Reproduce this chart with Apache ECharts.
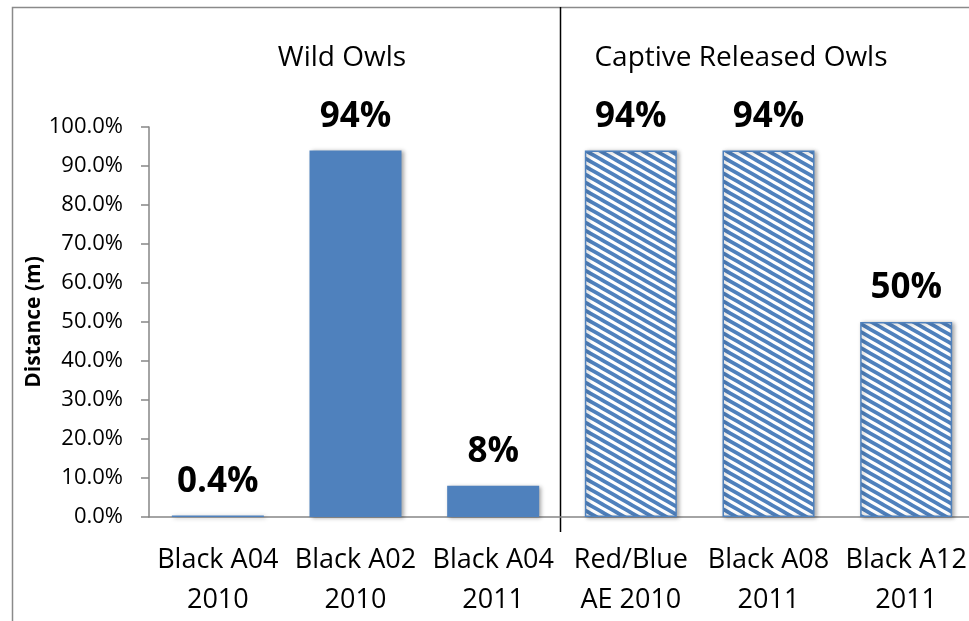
<!DOCTYPE html>
<html>
<head>
<meta charset="utf-8">
<title>Owl distance share</title>
<script src="https://cdn.jsdelivr.net/npm/echarts@6/dist/echarts.min.js"></script>
<style>
  html, body { margin: 0; padding: 0; background: #fff; overflow: hidden; }
  #chart { width: 969px; height: 621px; }
</style>
</head>
<body>
<div id="chart"></div>
<script>
// Owl records on the category axis (two-line labels)
const categories = ['Black A04\n2010', 'Black A02\n2010', 'Black A04\n2011',
                    'Red/Blue\nAE 2010', 'Black A08\n2011', 'Black A12\n2011'];
// Share of distance per owl (fraction of 1)
const distanceShare = [0.004, 0.94, 0.08, 0.94, 0.94, 0.50];
// 0 = wild owl, 1 = captive released owl
const groupOf = [0, 0, 0, 1, 1, 1];
const groupNames = ['Wild Owls', 'Captive Released Owls'];
// Value axis range and step
const yMin = 0, yMax = 1, yStep = 0.1;

const BLUE = '#4F81BD';
const FONT = '"Open Sans", "DejaVu Sans", sans-serif';

// Diagonal stripe fill for the captive group
function stripePattern() {
  const w = 14, h = 8;
  const c = document.createElement('canvas');
  c.width = w; c.height = h;
  const g = c.getContext('2d');
  g.fillStyle = '#ffffff';
  g.fillRect(0, 0, w, h);
  g.strokeStyle = BLUE;
  g.lineWidth = 3.7;
  [-w, 0, w].forEach(function (dx) {
    g.beginPath();
    g.moveTo(dx - w, -h);
    g.lineTo(dx + 2 * w, 2 * h);
    g.stroke();
  });
  return c;
}
const stripes = stripePattern();

const barShadow = {
  shadowColor: 'rgba(0,0,0,0.35)',
  shadowBlur: 4,
  shadowOffsetX: 2,
  shadowOffsetY: 1
};

const barData = distanceShare.map(function (v, i) {
  const style = groupOf[i] === 0
    ? Object.assign({ color: BLUE }, barShadow)
    : Object.assign({
        color: { image: stripes, repeat: 'repeat' },
        borderColor: BLUE,
        borderWidth: 1.5
      }, barShadow);
  return { value: v, itemStyle: style };
});

function pctLabel(v) {
  const p = v * 100;
  return (p < 1 ? p.toFixed(1) : Math.round(p).toString()) + '%';
}

const chart = echarts.init(document.getElementById('chart'), null, { renderer: 'canvas' });

chart.setOption({
  animation: false,
  backgroundColor: '#ffffff',
  grid: {
    left: 149, top: 127, width: 826, height: 390,
    containLabel: false,
    outerBoundsMode: 'none'
  },
  xAxis: {
    type: 'category',
    data: categories,
    axisLine: { lineStyle: { color: '#868686', width: 1.5 } },
    axisTick: { show: false },
    axisLabel: {
      color: '#000', fontFamily: FONT, fontSize: 27, lineHeight: 40,
      margin: 23, interval: 0
    },
    splitLine: { show: false }
  },
  yAxis: {
    type: 'value',
    min: yMin, max: yMax, interval: yStep,
    name: 'Distance (m)',
    nameLocation: 'middle',
    nameRotate: 90,
    nameGap: 104,
    nameMoveOverlap: false,
    nameTextStyle: { color: '#000', fontFamily: FONT, fontSize: 21, fontWeight: 'bold' },
    axisLine: { show: true, lineStyle: { color: '#868686', width: 1.5 } },
    axisTick: { show: true, inside: false, length: 8, lineStyle: { color: '#868686', width: 1.5 } },
    axisLabel: {
      color: '#000', fontFamily: FONT, fontSize: 22, margin: 26,
      formatter: function (v) { return (v * 100).toFixed(1) + '%'; }
    },
    splitLine: { show: false }
  },
  series: [{
    type: 'bar',
    data: barData,
    barWidth: 92,
    label: {
      show: true,
      position: 'top',
      distance: 16,
      color: '#000',
      fontFamily: FONT,
      fontSize: 35,
      fontWeight: 'bold',
      formatter: function (p) { return pctLabel(p.value); }
    }
  }]
});

// Separator between the two owl groups, plus chart frame and group headings
const xA = chart.convertToPixel({ xAxisIndex: 0 }, 2);
const xB = chart.convertToPixel({ xAxisIndex: 0 }, 3);
const sepX = Math.round((xA + xB) / 2) - 1.5;

chart.setOption({
  graphic: [
    {
      type: 'rect', silent: true,
      shape: { x: 12.5, y: 7.5, width: 1100, height: 800 },
      style: { fill: 'none', stroke: '#8a8a8a', lineWidth: 1.5 }
    },
    {
      type: 'line', silent: true,
      shape: { x1: sepX, y1: 7, x2: sepX, y2: 532 },
      style: { stroke: '#000', lineWidth: 1.5 }
    },
    {
      type: 'text', silent: true, x: 342, y: 58,
      style: {
        text: groupNames[0], fill: '#000', font: '28px ' + FONT,
        align: 'center', verticalAlign: 'middle'
      }
    },
    {
      type: 'text', silent: true, x: 741, y: 58,
      style: {
        text: groupNames[1], fill: '#000', font: '28px ' + FONT,
        align: 'center', verticalAlign: 'middle'
      }
    }
  ]
});
</script>
</body>
</html>
